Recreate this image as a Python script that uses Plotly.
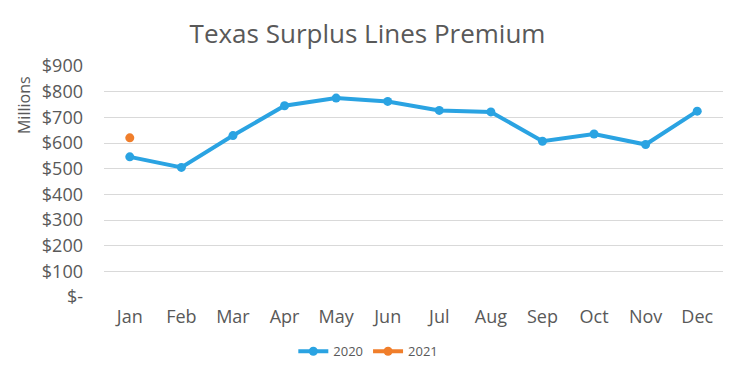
import plotly.graph_objects as go

months = ["Jan", "Feb", "Mar", "Apr", "May", "Jun", "Jul", "Aug", "Sep", "Oct", "Nov", "Dec"]
premium_2020 = [546, 505, 629, 745, 775, 762, 727, 721, 607, 635, 594, 724]
months_2021 = ["Jan"]
premium_2021 = [620]
tick_vals = [0, 100, 200, 300, 400, 500, 600, 700, 800, 900]
tick_text = ["$-", "$100", "$200", "$300", "$400", "$500", "$600", "$700", "$800", "$900"]

FONT = "'Open Sans', Lato, 'DejaVu Sans', sans-serif"
GREY = "#595959"

fig = go.Figure()
fig.add_trace(go.Scatter(x=months, y=premium_2020, name="2020", mode="lines+markers",
                         line=dict(color="#2AA3E2", width=4), marker=dict(size=9, color="#2AA3E2")))
fig.add_trace(go.Scatter(x=months_2021, y=premium_2021, name="2021", mode="lines+markers",
                         line=dict(color="#F07E2B", width=4), marker=dict(size=9, color="#F07E2B")))

fig.update_layout(
    width=750, height=376,
    margin=dict(l=104, r=27, t=66, b=79, autoexpand=False),
    paper_bgcolor="white", plot_bgcolor="white",
    font=dict(family=FONT, color=GREY, size=18),
    title=dict(text="Texas Surplus Lines Premium", x=0.49, xanchor="center", y=0.91, yanchor="middle",
               font=dict(size=26, color=GREY, family=FONT)),
    legend=dict(orientation="h", x=0.427, xanchor="center", y=-0.17, yanchor="top",
                font=dict(size=13, color=GREY), itemwidth=30, traceorder="normal",
                tracegroupgap=0),
    showlegend=True,
)
fig.update_xaxes(type="category", categoryorder="array", categoryarray=months,
                 showgrid=False, showline=False, ticks="", tickfont=dict(size=18, color=GREY),
                 range=[-0.5, 11.5], automargin=False, ticklabelstandoff=7)
fig.update_yaxes(range=[0, 900], tickvals=tick_vals, ticktext=tick_text,
                 showgrid=True, gridcolor="#D9D9D9", gridwidth=1, zeroline=False,
                 showline=False, ticks="", tickfont=dict(size=18, color=GREY), ticklabelstandoff=20,
                 automargin=False)
fig.add_annotation(text="Millions", xref="paper", yref="paper", x=-0.128, y=0.83,
                   xanchor="center", yanchor="middle", textangle=-90, showarrow=False,
                   font=dict(size=16, color=GREY, family=FONT))

fig.write_html("out.html", config={"displayModeBar": False},
               post_script="document.body.style.margin='0';")
